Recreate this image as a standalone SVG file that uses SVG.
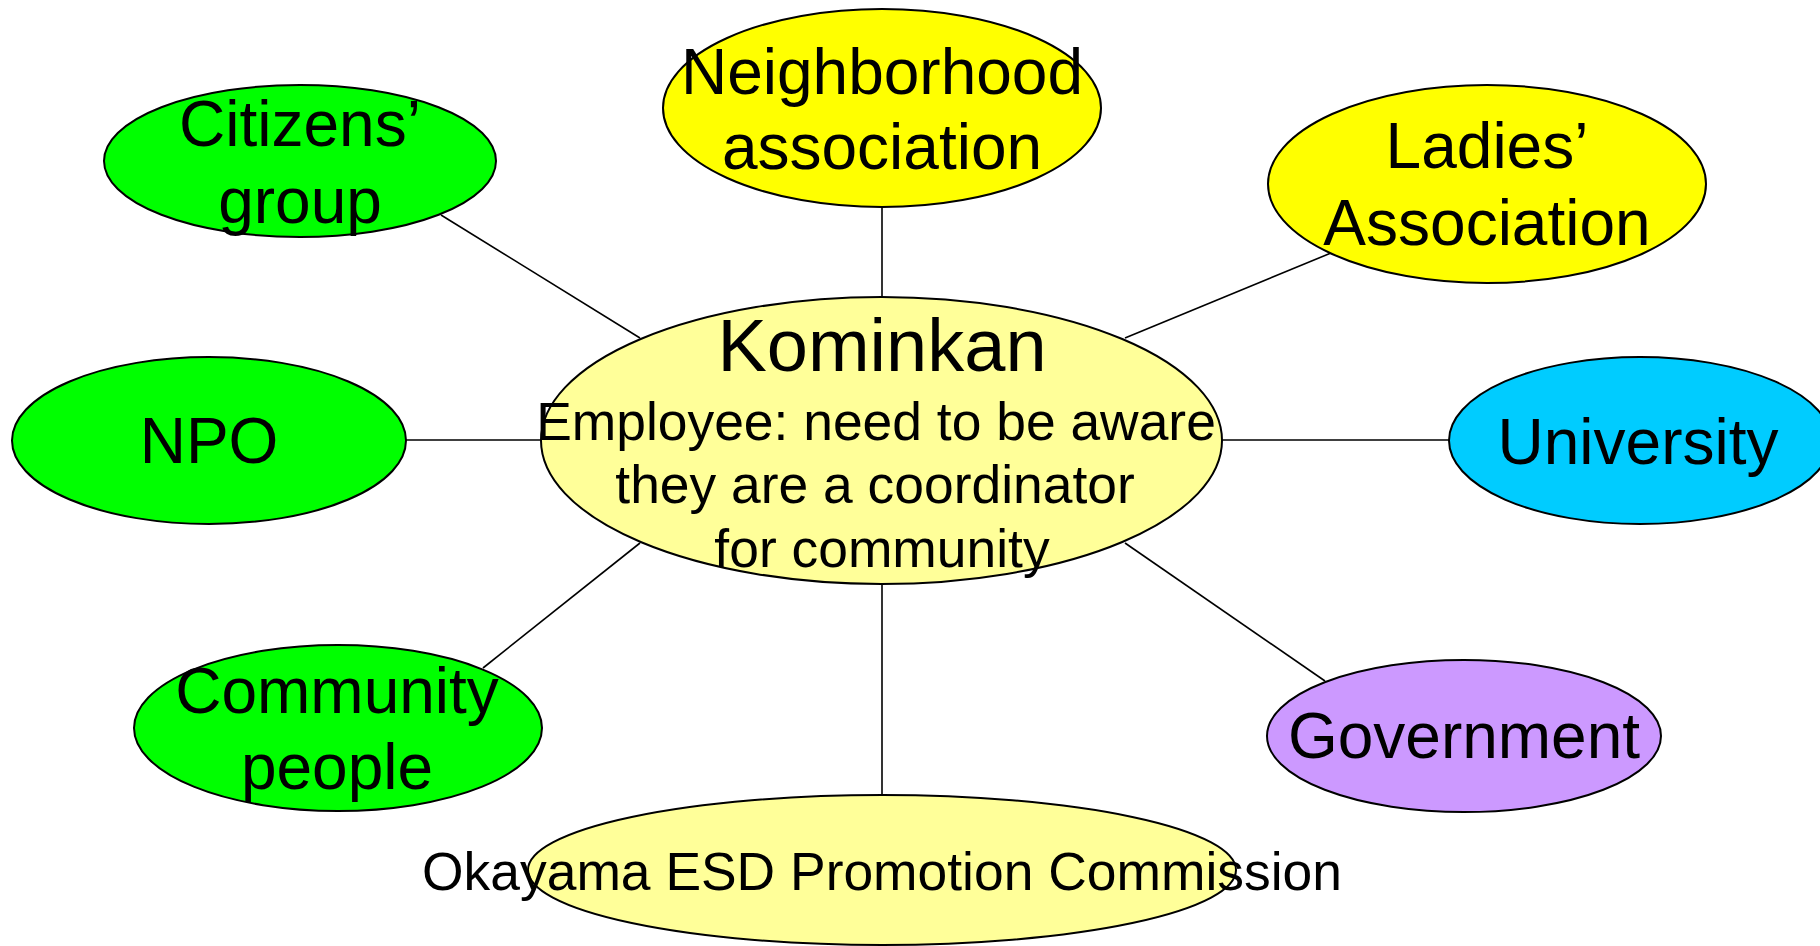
<svg xmlns="http://www.w3.org/2000/svg" width="1820" height="946" viewBox="0 0 1820 946">
<style>
.n{stroke:#000;stroke-width:2}
.c line{stroke:#000;stroke-width:1.6}
text{font-family:"Liberation Sans",Arial,sans-serif;fill:#000;text-anchor:middle}
.t{font-size:64px}
.s{font-size:53.4px}
.k{font-size:74px}
.g{fill:#00FF00}.y{fill:#FFFF00}.ly{fill:#FFFF99}.b{fill:#00CCFF}.p{fill:#CC99FF}
</style>
<rect width="1820" height="946" fill="#fff"/>
<g id="connectors" class="c">
<line x1="441" y1="215" x2="640" y2="338"/>
<line x1="882" y1="207" x2="882" y2="297"/>
<line x1="1331" y1="253" x2="1125" y2="338"/>
<line x1="406" y1="440" x2="541" y2="440"/>
<line x1="1222" y1="440" x2="1449" y2="440"/>
<line x1="640" y1="543" x2="483" y2="668"/>
<line x1="882" y1="584" x2="882" y2="796"/>
<line x1="1125" y1="543" x2="1325" y2="681"/>
</g>
<g id="okayama">
<ellipse class="n ly" cx="882" cy="870" rx="354" ry="75"/>
<text class="s" x="882" y="890">Okayama ESD Promotion Commission</text>
</g>
<g id="kominkan">
<ellipse class="n ly" cx="881.5" cy="440.5" rx="340.5" ry="143.5"/>
<text class="k" x="882" y="371">Kominkan</text>
<text class="s" x="876" y="440">Employee: need to be aware</text>
<text class="s" x="875" y="503">they are a coordinator</text>
<text class="s" x="882" y="567">for community</text>
</g>
<g id="citizens">
<ellipse class="n g" cx="300" cy="161" rx="196" ry="76"/>
<text class="t" x="300" y="146">Citizens’</text>
<text class="t" x="300" y="223">group</text>
</g>
<g id="neighborhood">
<ellipse class="n y" cx="882" cy="108" rx="219" ry="99"/>
<text class="t" x="882" y="94">Neighborhood</text>
<text class="t" x="882" y="169">association</text>
</g>
<g id="ladies">
<ellipse class="n y" cx="1487" cy="184" rx="219" ry="99"/>
<text class="t" x="1487" y="168">Ladies’</text>
<text class="t" x="1487" y="245">Association</text>
</g>
<g id="npo">
<ellipse class="n g" cx="209" cy="440.5" rx="197" ry="83.5"/>
<text class="t" x="209" y="463">NPO</text>
</g>
<g id="university">
<ellipse class="n b" cx="1640" cy="440.5" rx="191" ry="83.5"/>
<text class="t" x="1638" y="464">University</text>
</g>
<g id="community">
<ellipse class="n g" cx="338" cy="728" rx="204" ry="83"/>
<text class="t" x="337" y="713">Community</text>
<text class="t" x="337" y="789">people</text>
</g>
<g id="government">
<ellipse class="n p" cx="1464" cy="736" rx="197" ry="76"/>
<text class="t" x="1464" y="758">Government</text>
</g>
</svg>
